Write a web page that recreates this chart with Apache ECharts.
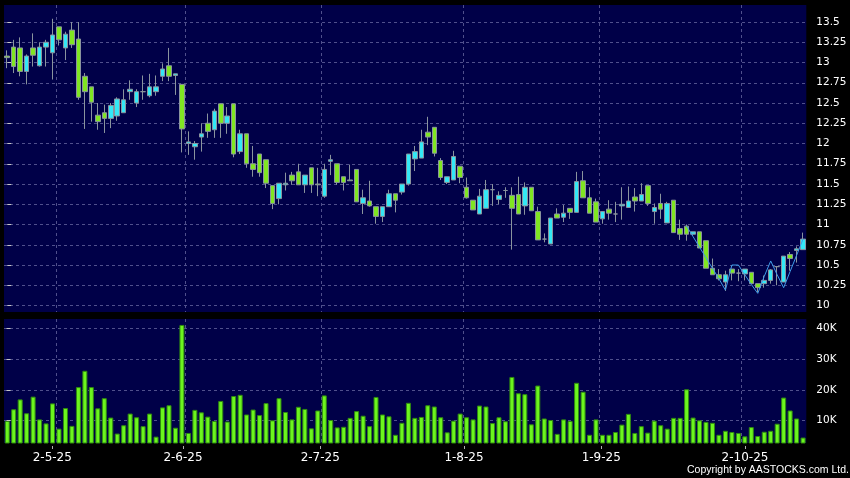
<!DOCTYPE html>
<html>
<head>
<meta charset="utf-8">
<script src="https://cdn.jsdelivr.net/npm/echarts@6/dist/echarts.min.js"></script>
<style>
html,body{margin:0;padding:0;background:#000;}
#chart{width:850px;height:478px;}
</style>
</head>
<body>
<div id="chart"></div>
<script>
// ---- data ----
const startDate = '2025-04-22';
const holidays = ['2025-05-01','2025-05-05','2025-07-01','2025-10-01','2025-10-07'];
const xLabelDates = ['2-5-25','2-6-25','2-7-25','1-8-25','1-9-25','2-10-25'];
const priceTicks = [10,10.25,10.5,10.75,11,11.25,11.5,11.75,12,12.25,12.5,12.75,13,13.25,13.5];
const volumeTicks = [10000,20000,30000,40000];

const opens  = [13.08,13.19,13.18,12.89,13.18,12.96,13.19,13.12,13.44,13.18,13.40,13.29,12.83,12.70,12.35,12.38,12.31,12.34,12.38,12.64,12.50,12.64,12.59,12.64,12.83,12.96,12.84,12.73,12.00,11.96,12.08,12.25,12.17,12.49,12.25,12.49,11.90,12.12,11.75,11.87,11.80,11.48,11.32,11.49,11.61,11.65,11.49,11.70,11.50,11.35,11.78,11.75,11.59,11.55,11.68,11.26,11.29,11.22,11.10,11.22,11.38,11.40,11.50,11.81,11.82,12.14,12.20,11.79,11.52,11.55,11.72,11.46,11.30,11.13,11.20,11.43,11.31,11.42,11.36,11.37,11.23,11.46,11.16,10.82,10.76,11.13,11.09,11.20,11.15,11.54,11.33,11.28,11.07,11.19,11.13,11.23,11.21,11.34,11.29,11.48,11.16,11.26,11.02,11.30,10.95,10.98,10.88,10.91,10.80,10.46,10.38,10.29,10.45,10.40,10.39,10.41,10.27,10.27,10.31,10.48,10.29,10.63,10.68,10.69];
const closes = [13.06,12.95,12.89,13.08,13.09,13.19,13.25,13.34,13.28,13.35,13.22,12.57,12.64,12.51,12.27,12.31,12.47,12.55,12.54,12.67,12.64,12.64,12.70,12.70,12.92,12.83,12.86,12.18,12.02,12.00,12.12,12.15,12.40,12.25,12.34,11.87,12.12,11.75,11.68,11.64,11.51,11.26,11.51,11.51,11.54,11.49,11.61,11.49,11.49,11.68,11.80,11.52,11.52,11.54,11.28,11.33,11.23,11.10,11.22,11.38,11.30,11.50,11.87,11.90,12.02,12.08,11.88,11.58,11.59,11.84,11.58,11.33,11.18,11.35,11.43,11.43,11.36,11.42,11.20,11.13,11.46,11.17,10.81,10.82,11.08,11.08,11.14,11.15,11.53,11.33,11.14,11.03,11.16,11.14,11.13,11.25,11.29,11.29,11.37,11.26,11.21,11.19,11.26,10.90,10.88,10.88,10.91,10.71,10.46,10.38,10.33,10.38,10.40,10.40,10.45,10.27,10.22,10.31,10.44,10.48,10.61,10.58,10.70,10.82];
const lows   = [12.93,12.87,12.83,12.73,12.95,12.95,12.95,12.79,13.21,13.03,13.18,12.54,12.18,12.27,12.17,12.13,12.19,12.28,12.38,12.54,12.45,12.54,12.57,12.59,12.77,12.77,12.60,11.89,11.86,11.80,11.90,12.07,12.07,12.07,12.12,11.83,11.87,11.70,11.59,11.59,11.45,11.19,11.25,11.42,11.49,11.49,11.39,11.39,11.35,11.33,11.61,11.49,11.42,11.54,11.28,11.13,11.22,11.01,11.03,11.22,11.15,11.37,11.48,11.66,11.82,11.98,11.84,11.55,11.50,11.55,11.51,11.32,11.18,11.13,11.20,11.23,11.25,11.33,10.69,11.13,11.12,11.17,10.81,10.78,10.76,11.08,11.03,11.07,11.15,11.33,11.14,11.03,11.01,11.06,11.03,11.06,11.21,11.16,11.29,11.23,11.01,11.07,11.02,10.90,10.81,10.80,10.86,10.71,10.46,10.38,10.31,10.18,10.31,10.30,10.31,10.27,10.16,10.22,10.27,10.25,10.29,10.43,10.53,10.69];
const highs  = [13.15,13.28,13.31,13.10,13.36,13.25,13.28,13.54,13.44,13.38,13.50,13.50,12.87,12.70,12.50,12.48,12.50,12.57,12.67,12.78,12.67,12.84,12.86,12.84,12.99,13.18,12.86,12.73,12.15,12.03,12.25,12.37,12.43,12.49,12.45,12.49,12.17,12.12,11.97,11.87,11.80,11.48,11.51,11.64,11.65,11.75,11.61,11.70,11.70,11.75,11.86,11.75,11.59,11.74,11.68,11.43,11.54,11.22,11.22,11.43,11.38,11.50,11.87,11.97,12.17,12.33,12.20,11.82,11.59,11.91,11.72,11.58,11.30,11.44,11.55,11.50,11.41,11.46,11.46,11.59,11.52,11.46,11.22,10.89,11.08,11.20,11.24,11.20,11.65,11.66,11.46,11.32,11.16,11.30,11.28,11.46,11.47,11.45,11.51,11.48,11.26,11.38,11.28,11.30,11.06,11.00,10.91,10.91,10.80,10.58,10.45,10.43,10.45,10.45,10.45,10.41,10.27,10.37,10.45,10.48,10.61,10.66,10.73,10.90];
const volumes = [9900,13700,16900,12400,17800,10400,9100,15600,7400,14100,8300,20900,26200,20900,14000,17300,11000,5800,8500,12300,11100,8200,12300,4800,14300,15000,7700,41100,6000,13500,12700,11300,9900,16400,9700,18000,18400,12000,13600,11800,15700,10100,17300,12800,10400,14500,13800,7500,13300,18200,10200,7800,8000,10900,13100,11600,8200,17700,12000,11400,5400,9300,15800,10900,11200,15000,14600,11100,6200,10000,12300,11100,10400,14900,14600,9200,11100,9800,24200,18900,18600,8800,21400,10700,10200,5700,10400,9900,22300,19400,5400,10400,5400,5400,6300,8700,12200,6000,8200,6100,10000,8500,7400,10900,10900,20200,11000,10100,9600,9300,5400,6700,6300,6000,4900,7900,5000,6400,6700,9000,17500,13300,10700,4500];
const lineStart = 105;
const lineValues = [10.98,10.85,10.72,10.59,10.46,10.33,10.19,10.50,10.50,10.38,10.26,10.15,10.36,10.55,10.38,10.22,10.42,10.62,10.82];

// ---- build categories (trading days) ----
function fmt(d){ return d.getUTCDate()+'-'+(d.getUTCMonth()+1)+'-'+String(d.getUTCFullYear()).slice(2); }
function iso(d){ return d.toISOString().slice(0,10); }
const dates = [];
let d = new Date(startDate+'T00:00:00Z');
while (dates.length < opens.length) {
  const wd = d.getUTCDay();
  if (wd !== 0 && wd !== 6 && holidays.indexOf(iso(d)) < 0) dates.push(fmt(d));
  d = new Date(d.getTime() + 86400000);
}
const labelIdx = xLabelDates.map(s => dates.indexOf(s));
const splitPos = labelIdx.map(i => i + 0.5);   // right edge of each labelled day
const ohlc = opens.map((o,i) => [o, closes[i], lows[i], highs[i]]);
const lineData = dates.map((_,i) => (i >= lineStart ? lineValues[i - lineStart] : null));

const gridBg = '#000048';
const dash = {color:'#50508c', type:[3,3], width:1};
const labelFont = 'DejaVu Sans';

function splitAxis(gridIndex){
  return {type:'value', gridIndex, position:'top', min:-0.5, max:dates.length - 0.5,
    axisLine:{show:false}, axisLabel:{show:false},
    axisTick:{show:false, customValues:splitPos},
    splitLine:{show:true, lineStyle:dash}};
}

const chart = echarts.init(document.getElementById('chart'), null, {renderer:'canvas'});
chart.setOption({
  animation:false,
  backgroundColor:'#000000',
  grid:[
    {left:4, width:802.3, top:5, height:307, show:true, backgroundColor:gridBg, borderWidth:0},
    {left:4, width:802.3, top:319, height:124, show:true, backgroundColor:gridBg, borderWidth:0}
  ],
  xAxis:[
    {type:'category', gridIndex:0, data:dates, boundaryGap:true,
     axisLine:{show:false}, axisTick:{show:false}, axisLabel:{show:false}, splitLine:{show:false}},
    {type:'category', gridIndex:1, data:dates, boundaryGap:true,
     axisLine:{show:false}, axisTick:{show:false}, axisLabel:{show:false}, splitLine:{show:false}},
    {type:'value', gridIndex:1, position:'bottom', offset:3, min:-0.39, max:122.38,
     axisLine:{show:false}, splitLine:{show:false},
     axisTick:{show:true, length:3, customValues:labelIdx, lineStyle:{color:'#b0b0b0'}},
     axisLabel:{show:true, customValues:labelIdx, margin:6, color:'#ffffff', fontSize:12, fontFamily:labelFont,
       formatter:(v)=>dates[Math.round(v)]}},
    splitAxis(0),
    splitAxis(1)
  ],
  yAxis:[
    {type:'value', gridIndex:0, position:'right', offset:4, min:9.92, max:13.71,
     axisLine:{show:false},
     axisTick:{show:true, length:4, customValues:priceTicks, lineStyle:{color:'#c8c8c8'}},
     axisLabel:{show:true, customValues:priceTicks, margin:6, color:'#ffffff', fontSize:10.5, fontFamily:labelFont,
       formatter:(v)=>String(+v.toFixed(2))},
     splitLine:{show:true, lineStyle:dash}},
    {type:'value', gridIndex:1, position:'right', offset:4, min:2730, max:43030,
     axisLine:{show:false},
     axisTick:{show:true, length:4, customValues:volumeTicks, lineStyle:{color:'#c8c8c8'}},
     axisLabel:{show:true, customValues:volumeTicks, margin:6, color:'#ffffff', fontSize:10.5, fontFamily:labelFont,
       formatter:(v)=>(v/1000)+'K'},
     splitLine:{show:true, lineStyle:dash}}
  ],
  series:[
    {type:'candlestick', xAxisIndex:0, yAxisIndex:0, data:ohlc, barWidth:5,
     itemStyle:{color:'#33e8f6', color0:'#80e622', borderColor:'#8a949e', borderColor0:'#8a949e', borderWidth:1}},
    {type:'line', xAxisIndex:0, yAxisIndex:0, data:lineData, symbol:'none', connectNulls:false,
     lineStyle:{color:'#3f9be8', width:1}},
    {type:'bar', xAxisIndex:1, yAxisIndex:1, data:volumes, barWidth:5,
     itemStyle:{color:'#6cf51e', borderColor:'#2f8a10', borderWidth:1}}
  ],
  graphic:[
    {type:'text', right:1, top:465,
     style:{text:'Copyright by AASTOCKS.com Ltd.', fill:'#ffffff', font:'10.5px "Liberation Sans"'}}
  ]
});
</script>
</body>
</html>
